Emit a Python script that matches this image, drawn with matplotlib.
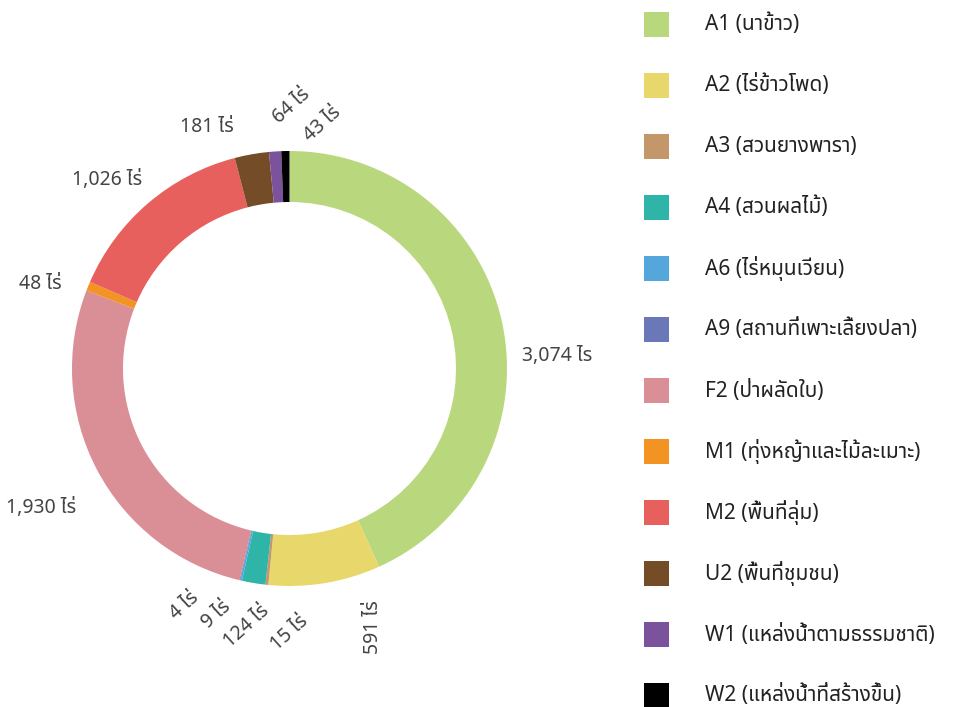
import matplotlib
matplotlib.use("Agg")
import matplotlib.pyplot as plt
from matplotlib.patches import Rectangle
import numpy as np

plt.rcParams['font.family'] = ['Noto Sans Thai', 'DejaVu Sans']

# ---- data ----
categories = ["A1 (นาข้าว)", "A2 (ไร่ข้าวโพด)", "A3 (สวนยางพารา)", "A4 (สวนผลไม้)",
              "A6 (ไร่หมุนเวียน)", "A9 (สถานที่เพาะเลี้ยงปลา)", "F2 (ป่าผลัดใบ)",
              "M1 (ทุ่งหญ้าและไม้ละเมาะ)", "M2 (พื้นที่ลุ่ม)", "U2 (พื้นที่ชุมชน)",
              "W1 (แหล่งน้ำตามธรรมชาติ)", "W2 (แหล่งน้ำที่สร้างขึ้น)"]
values = [3074, 591, 15, 124, 9, 4, 1930, 48, 1026, 181, 64, 43]
units = ["ไร", "ไร่", "ไร่", "ไร่", "ไร่", "ไร่", "ไร่", "ไร่", "ไร่", "ไร่", "ไร่", "ไร่"]

# ---- style ----
colors = ["#b9d87d", "#e8d76b", "#c4976a", "#2eb5a7", "#55a6db", "#6b78b8",
          "#da8e95", "#f39324", "#e8605e", "#744c28", "#7b529c", "#000000"]
# label rotation and nudges (pixels, x right / y down) from the radial anchor
label_rot = [0, 90, 42, 42, 42, 42, 0, 0, 0, 0, 42, 42]
label_nudge = [(33, 38), (44, 22), (25, 26), (-3, 21), (-20, 12), (-50, 4),
               (-36, 27), (-27, 6), (-26, -6), (-41, -5), (18, -23), (38, -4)]

W, H = 958, 707
fig = plt.figure(figsize=(W / 100, H / 100), dpi=100)
ax = fig.add_axes([0, 0, 1, 1])

cx, cy = 289.5, H - 368.5
R = 217.5
ring = 51

wedges, _ = ax.pie(values, colors=colors, startangle=90, counterclock=False,
                   center=(cx, cy), radius=R, frame=True,
                   wedgeprops=dict(width=ring, linewidth=0, antialiased=True))
ax.set_xlim(0, W)
ax.set_ylim(0, H)
ax.set_aspect('equal')
ax.axis('off')

total = float(sum(values))
cum = 0.0
for i, v in enumerate(values):
    mid = cum + v / 2.0
    cum += v
    theta = np.deg2rad(90 - 360.0 * mid / total)
    px = cx + 240 * np.cos(theta)
    py = cy + 240 * np.sin(theta)
    dx, dy = label_nudge[i]
    ax.text(px + dx, py - dy, f"{v:,} {units[i]}", rotation=label_rot[i],
            ha='center', va='center', fontsize=14, color='#444444',
            fontweight='light')

# legend
lx, ly0, step, sq = 644, H - 24.5, 61, 25
for i, (lab, c) in enumerate(zip(categories, colors)):
    y = ly0 - i * step
    ax.add_patch(Rectangle((lx, y - sq / 2), sq, sq, facecolor=c, edgecolor='none'))
    ax.text(705, y, lab, ha='left', va='center', fontsize=15, color='#222222',
            fontweight='medium')

fig.savefig("out.png", dpi=100)
